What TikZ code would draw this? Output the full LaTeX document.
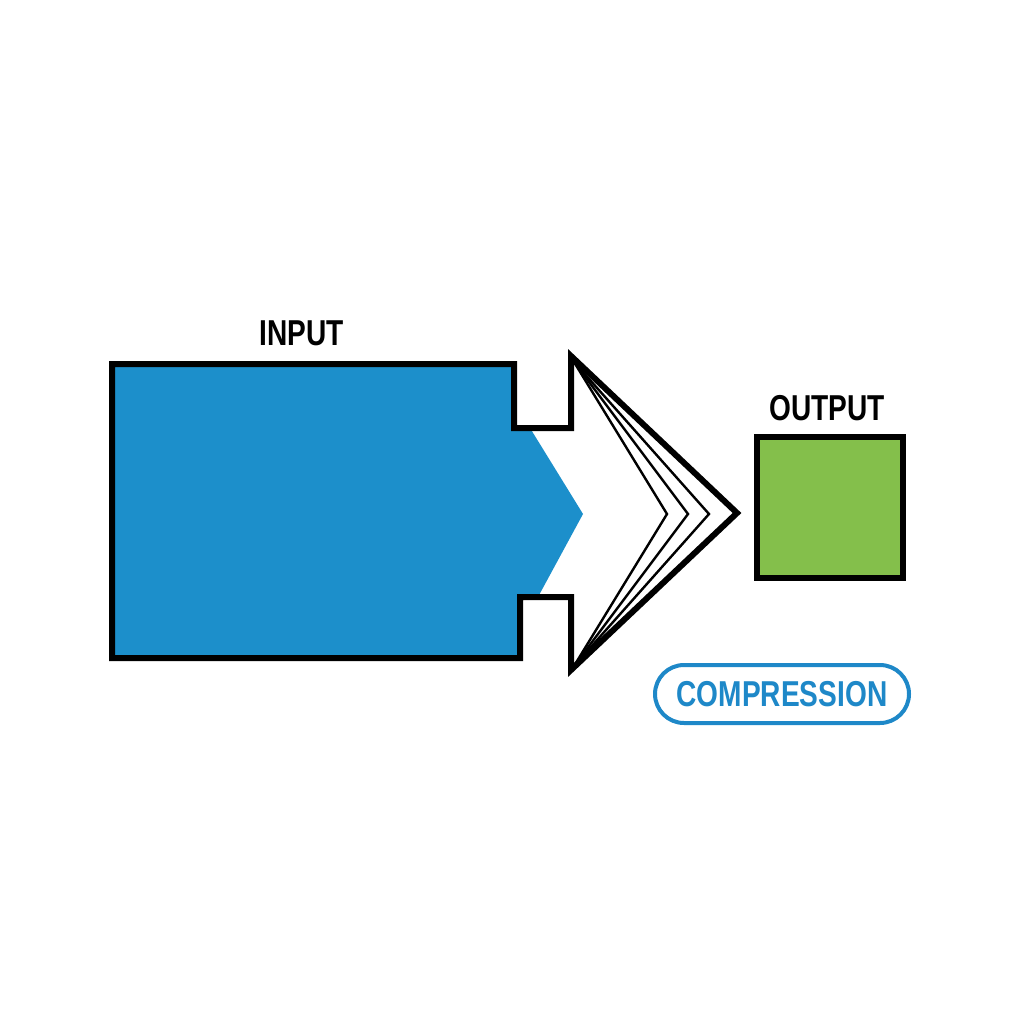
\documentclass[tikz,border=0pt]{standalone}
\usepackage{fontspec}
\newfontfamily\labelfont[FakeStretch=0.78]{Liberation Sans}
\definecolor{inblue}{HTML}{1C8FCB}
\definecolor{outgreen}{HTML}{84BF4B}
\definecolor{pillblue}{HTML}{1E88C8}
\begin{document}
\begin{tikzpicture}[x=1pt,y=-1pt,
  lbl/.style={font=\labelfont\bfseries\fontsize{36}{40}\selectfont, inner sep=0pt, anchor=center},
  thickline/.style={line width=6pt, line join=miter},
  thinline/.style={line width=2.4pt, line join=miter}]
\useasboundingbox (0,0) rectangle (1024,1024);
\fill[white] (0,0) rectangle (1024,1024);
% blue fill
\fill[inblue] (112,364) -- (514,364) -- (514,428) -- (530,428) -- (583,514) -- (538,597) -- (520,597) -- (520,658) -- (112,658) -- cycle;
% inner chevrons
\draw[thinline] (574,362) -- (667,514) -- (574,666);
\draw[thinline] (574,362) -- (688,514) -- (574,666);
\draw[thinline] (574,362) -- (709,514) -- (574,666);
% outline
\draw[thickline] (112,364) -- (514,364) -- (514,428) -- (571,428) -- (571,356) -- (737,513) -- (571,670) -- (571,597) -- (520,597) -- (520,658) -- (112,658) -- cycle;
% output square
\node[draw=black, line width=6pt, fill=outgreen, minimum width=146pt, minimum height=141pt, inner sep=0pt] (out) at (830,507.5) {};
% labels
\node[lbl] (input) at (302,333) {INPUT};
\node[lbl] (output) at (827,408) {OUTPUT};
\node[lbl, text=pillblue, draw=pillblue, line width=4pt, rounded corners=29pt, minimum width=254pt, minimum height=58pt] (pill) at (782,694) {COMPRESSION};
\end{tikzpicture}
\end{document}
